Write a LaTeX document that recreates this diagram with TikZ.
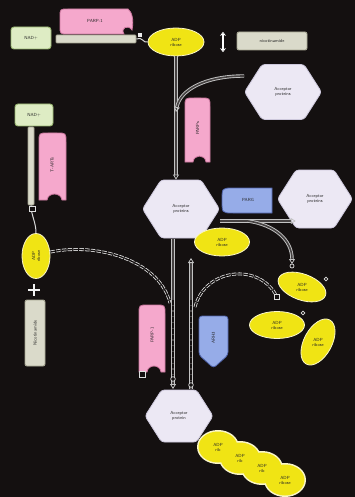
\documentclass[tikz,border=0pt]{standalone}
\usetikzlibrary{shapes.geometric,shapes.symbols,arrows.meta,calc}
\definecolor{bg}{RGB}{20,16,16}
\definecolor{gfill}{RGB}{222,236,196}
\definecolor{gdraw}{RGB}{150,180,110}
\definecolor{pfill}{RGB}{245,168,204}
\definecolor{pdraw}{RGB}{205,120,160}
\definecolor{bfill}{RGB}{150,172,232}
\definecolor{bdraw}{RGB}{80,100,170}
\definecolor{yfill}{RGB}{240,228,20}
\definecolor{ydraw}{RGB}{250,246,200}
\definecolor{hfill}{RGB}{236,232,244}
\definecolor{hdraw}{RGB}{205,200,220}
\definecolor{kfill}{RGB}{218,218,202}
\definecolor{kdraw}{RGB}{165,165,145}
\definecolor{raild}{RGB}{195,195,195}
\definecolor{raili}{RGB}{70,66,66}
\newcommand\vtabshape[4]{% x0 y0 x1 y1
  \path[pinktab] (#1,#4) -- (#1,#2+9) .. controls (#1,#2) .. (#1+9,#2) -- (#3-9,#2) .. controls (#3,#2) .. (#3,#2+9) -- (#3,#4) -- (#3-4,#4) .. controls (#3-5,#4-8) and (#1+9,#4-8) .. (#1+8,#4) -- cycle;}
\begin{document}
\begin{tikzpicture}[x=1pt,y=-1pt,
  every node/.style={font=\sffamily\fontsize{4.4}{5}\selectfont, text=black!85, inner sep=0pt, align=center},
  greenbox/.style={draw=gdraw, fill=gfill, rounded corners=3pt, line width=0.9pt},
  graybox/.style={draw=kdraw, fill=kfill, rounded corners=2pt, line width=0.9pt},
  yell/.style={ellipse, draw=ydraw, fill=yfill, line width=0.8pt},
  hexa/.style={signal, signal to=west and east, signal pointer angle=115, draw=hdraw, fill=hfill, line width=0.8pt, rounded corners=3pt},
  pinktab/.style={fill=pfill, draw=pdraw, line width=0.8pt},
  bluetab/.style={fill=bfill, draw=bdraw, line width=0.8pt},
  rail/.style={draw=raild, line width=0.9pt, double=raili, double distance=1.6pt},
  railarrow/.style={rail, -{Triangle[open, length=5pt, width=6pt, line width=0.8pt]}},
  chainlink/.style={draw=gray!25!white, line width=0.8pt, double=bg, double distance=1.3pt, dash pattern=on 4.5pt off 1.3pt},
  endmark/.style={draw=gray!25!white, line width=0.7pt, fill=bg}
]
\fill[bg] (0,0) rectangle (355,497);
\useasboundingbox (0,0) rectangle (355,497);

% ---------------- top row ----------------
\node[greenbox, minimum width=40pt, minimum height=22pt] (nadA) at (31,38) {NAD+};
\node[graybox, minimum width=80pt, minimum height=8pt, rounded corners=1pt] (barA) at (96,39) {};
\path[pinktab] (128,9) -- (68,9) .. controls (60,9) .. (60,17) -- (60,26) .. controls (60,34) .. (68,34) -- (124,34) .. controls (120,28) and (128,24) .. (132,30) .. controls (134,20) and (132,12) .. (128,9) -- cycle;
\node (parpA) at (95,21) {PARP-1};
\node[yell, minimum width=56pt, minimum height=28pt] (adpA) at (176,42) {ADP\\ribose};
\draw[draw=gray!30!white, line width=1pt] (barA.east) .. controls (142,36) and (144,44) .. (adpA.west);
\fill[white!85!gray] (138,33) rectangle (142,37);
\node[minimum width=12pt, minimum height=20pt] (dbl) at (223,42) {};
\draw[white, line width=1.4pt, {Stealth[length=4pt,width=6pt,open]}-{Stealth[length=4pt,width=6pt,open]}] (dbl.north) -- (dbl.south);
\node[graybox, minimum width=70pt, minimum height=18pt] (nicA) at (272,41) {nicotinamide};

% ---------------- acceptor proteins top right ----------------
\node[hexa, minimum width=77pt, minimum height=55pt] (hexT) at (283,92) {Acceptor\\proteins};
\coordinate (railJ) at (176,112);
\node[hexa, minimum width=77pt, minimum height=58pt] (hexC) at (181,209) {Acceptor\\proteins};
\draw[railarrow] (adpA.south) -- (adpA.south |- hexC.north);
\draw[rail, -{Triangle[open, length=5pt, width=6pt, line width=0.8pt]}] (hexT.west |- 0,76) .. controls (205,76) and (180,90) .. (railJ);
\vtabshape{185}{98}{210}{162}
\node[rotate=90] (parpB) at (197.5,128) {PARPs};

% ---------------- centre row ----------------
\node[hexa, minimum width=75pt, minimum height=58pt] (hexR) at (315,199) {Acceptor\\proteins};
\path[bluetab] (272,188) -- (233,188) .. controls (222,188) .. (222,200) .. controls (222,213) .. (233,213) -- (272,213) -- cycle;
\node (parg) at (248,200) {PARG};
\draw[railarrow] (hexC.east |- 0,221) -- (hexR.south west |- 0,221);
\coordinate (curveEnd) at (292,264);
\draw[railarrow] (248,221) .. controls (275,225) and (292,240) .. (curveEnd);
\node[yell, minimum width=55pt, minimum height=28pt] (adpC) at (222,242) {ADP\\ribose};

% ---------------- left column ----------------
\node[greenbox, minimum width=38pt, minimum height=22pt] (nadB) at (34,115) {NAD+};
\node[graybox, minimum width=6pt, minimum height=78pt, rounded corners=1pt] (barB) at (31,166) {};
\vtabshape{39}{133}{66}{200}
\node[rotate=90] (tarts) at (52,165) {T-ARTs};
\node[yell, minimum width=28pt, minimum height=45pt] (adpL) at (36,256) {};
\node[rotate=90] at (adpL) {ADP\\ribose};
\draw[draw=gray!30!white, line width=1pt] (barB.south) .. controls (31,215) and (36,222) .. (adpL.north);
\draw[endmark] (29,206) rectangle (35,211);
\node[minimum width=12pt, minimum height=12pt] (plus) at (34,290) {};
\draw[white!90!gray, line width=1.5pt] (plus.north) -- (plus.south) (plus.west) -- (plus.east);
\node[graybox, minimum width=20pt, minimum height=66pt] (nicB) at (35,333) {};
\node[rotate=90] at (nicB) {Nicotinamide};

% chain from left ADP ribose
\coordinate (chainLend) at (170,303);
\draw[chainlink] (adpL.east |- 0,252) .. controls (100,242) and (160,262) .. (chainLend);

% ---------------- lower rails ----------------
\node[hexa, minimum width=68pt, minimum height=52pt] (hexB) at (179,416) {Acceptor\\protein};
\draw[railarrow] (173,239) -- (173,389);
\draw[railarrow] (191,389) -- (191,258);
\draw[chainlink] (173,300) -- (173,380);
\draw[chainlink] (191,300) -- (191,385);
\draw[endmark] (173,379) circle (2.3pt);
\draw[endmark] (191,385) circle (2.3pt);

\vtabshape{139}{305}{165}{372}
\node[rotate=90] (parpC) at (152,335) {PARP-1};
\draw[endmark] (139,371) rectangle (145,377);
\path[bluetab, rounded corners=3pt] (199,316) -- (228,316) -- (228,355) -- (213.5,368) -- (199,355) -- cycle;
\node[rotate=90] (arh) at (213.5,338) {ARH3};

% chain arc to ADP ribose fragments
\coordinate (chainRend) at (277,297);
\draw[chainlink] (195,307) .. controls (205,268) and (260,262) .. (chainRend);
\draw[endmark] (274.5,294.5) rectangle (279.5,299.5);

\node[yell, minimum width=50pt, minimum height=26pt, rotate=-20] (adpR1) at (302,287) {};
\node at (adpR1) {ADP\\ribose};
\node[yell, minimum width=55pt, minimum height=27pt] (adpR2) at (277,325) {ADP\\ribose};
\node[yell, minimum width=50pt, minimum height=28pt, rotate=62] (adpR3) at (318,342) {};
\node at (adpR3) {ADP\\ribose};
\draw[endmark] (curveEnd) ++(0,2) circle (2pt);
\draw[endmark] (326,279) circle (1.8pt);
\draw[endmark] (303,313) circle (1.8pt);

% ---------------- bottom cluster ----------------
\foreach \cx/\cy in {218/447, 240/458, 262/468, 285/480}{
  \fill[ydraw] (\cx,\cy) ellipse[x radius=21pt, y radius=17pt];
}
\foreach \cx/\cy in {218/447, 240/458, 262/468, 285/480}{
  \fill[yfill] (\cx,\cy) ellipse[x radius=19.5pt, y radius=15.5pt];
}
\node (c1) at (218,447) {ADP\\rib};
\node (c2) at (240,458) {ADP\\rib};
\node (c3) at (262,468) {ADP\\rib};
\node (c4) at (285,480) {ADP\\ribose};
\end{tikzpicture}
\end{document}
